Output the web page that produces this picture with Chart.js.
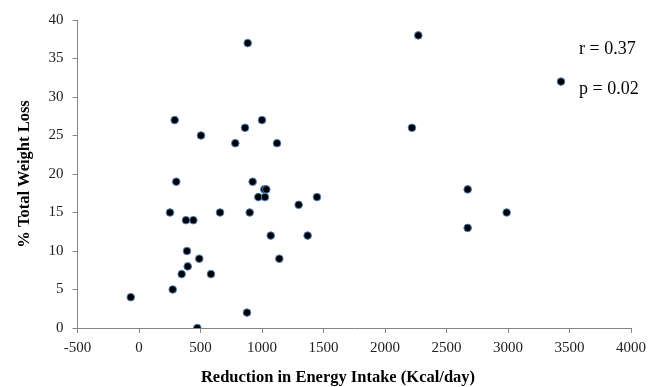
<!DOCTYPE html>
<html>
<head>
<meta charset="utf-8">
<script src="https://cdn.jsdelivr.net/npm/chart.js@4/dist/chart.umd.min.js"></script>
<style>
  html, body { margin: 0; padding: 0; background: #fff; }
  #wrap { width: 659px; height: 387px; }
</style>
</head>
<body>
<div id="wrap"><canvas id="myChart" width="659" height="387"></canvas></div>
<script>
// energy intake reduction (kcal/day) and % total weight loss
const reduction = [-67, 252, 274, 290, 303, 347, 382, 390, 396, 442, 474, 490, 504, 585, 659,
  783, 862, 878, 884, 900, 924, 970, 1000, 1019, 1024, 1035, 1071, 1122, 1141, 1298, 1371,
  1447, 2219, 2271, 2672, 2672, 2989, 3431];
const weightLoss = [4, 15, 5, 27, 19, 7, 14, 10, 8, 14, 0, 9, 25, 7, 15,
  24, 26, 2, 37, 15, 19, 17, 27, 18, 17, 18, 12, 24, 9, 16, 12,
  17, 26, 38, 18, 13, 15, 32];
const stats = ['r = 0.37', 'p = 0.02'];
const xTitle = 'Reduction in Energy Intake (Kcal/day)';
const yTitle = '% Total Weight Loss';

const axisGray = '#868686';
const serif = "'Liberation Serif', 'Times New Roman', serif";

const points = reduction.map((x, i) => ({ x: x, y: weightLoss[i] }));

const textPlugin = {
  id: 'textPlugin',
  afterDraw(chart) {
    const c = chart.ctx;
    c.save();
    c.fillStyle = '#000';
    c.textBaseline = 'alphabetic';
    c.textAlign = 'left';
    c.font = '18px ' + serif;
    c.fillText(stats[0], 579, 54);
    c.fillText(stats[1], 579, 94);
    c.font = 'bold 16.5px ' + serif;
    c.textAlign = 'center';
    c.textBaseline = 'middle';
    c.fillText(xTitle, 338, 378);
    c.restore();
  }
};

const ctx = document.getElementById('myChart');
new Chart(ctx, {
  type: 'scatter',
  data: {
    datasets: [{
      label: 'Weight loss',
      data: points,
      backgroundColor: '#000',
      borderColor: '#4f81bd',
      borderWidth: 1,
      pointRadius: 3.8,
      pointHoverRadius: 3.8
    }]
  },
  options: {
    responsive: false,
    animation: false,
    layout: { padding: { left: 0, top: 20, right: 28, bottom: 0 } },
    plugins: {
      legend: { display: false },
      tooltip: { enabled: false }
    },
    scales: {
      x: {
        type: 'linear',
        min: -500,
        max: 4000,
        afterFit: function (scale) { scale.height = 59; },
        ticks: {
          stepSize: 500,
          color: '#222',
          font: { family: serif, size: 15 },
          padding: 6,
          callback: function (v) { return String(v); }
        },
        grid: { drawOnChartArea: false, drawTicks: true, tickLength: 5, color: axisGray },
        border: { color: axisGray, width: 1 }
      },
      y: {
        min: 0,
        max: 40,
        afterFit: function (scale) { scale.width = 77.5; },
        ticks: { stepSize: 5, color: '#222', font: { family: serif, size: 15 }, padding: 9 },
        grid: { drawOnChartArea: false, drawTicks: true, tickLength: 5, color: axisGray },
        border: { color: axisGray, width: 1 },
        title: {
          display: true,
          text: yTitle,
          color: '#000',
          font: { family: serif, size: 16.5, weight: 'bold' },
          padding: { top: 15, bottom: 0 }
        }
      }
    }
  },
  plugins: [textPlugin]
});
</script>
</body>
</html>
